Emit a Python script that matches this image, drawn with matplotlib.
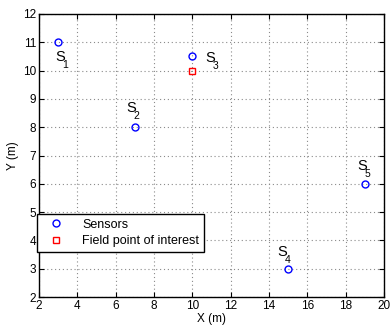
import matplotlib
matplotlib.use("Agg")
import matplotlib.pyplot as plt

plt.rcParams['font.family'] = ['Liberation Sans', 'DejaVu Sans']

sensor_x = [3, 7, 10, 15, 19]
sensor_y = [11, 8, 10.5, 3, 6]
sensor_names = ['1', '2', '3', '4', '5']
label_x = [2.83, 6.54, 10.66, 14.42, 18.59]
label_y = [10.48, 8.68, 10.45, 3.59, 6.63]
field_x = [10]
field_y = [10]

fig = plt.figure(figsize=(3.91, 3.27), dpi=100)
ax = fig.add_axes([39/391, 1 - 297/327, 345/391, 283/327])

ax.plot(sensor_x, sensor_y, 'o', ls='none', mfc='none', mec='blue', ms=5, mew=1, label='Sensors')
ax.plot(field_x, field_y, 's', ls='none', mfc='none', mec='red', ms=5, mew=1, label='Field point of interest')

for lx, ly, n in zip(label_x, label_y, sensor_names):
    ax.text(lx, ly, 'S', fontsize=10.5, ha='left', va='center')
    ax.annotate(n, (lx, ly), xytext=(5.3, -5.5), textcoords='offset points',
                fontsize=7.5, ha='left', va='center')

ax.set_xlim(2, 20)
ax.set_ylim(2, 12)
ax.set_xticks(range(2, 21, 2))
ax.set_yticks(range(2, 13, 1))
ax.grid(True, color='#8a8a8a', lw=0.8, dashes=(1, 2.5))
ax.tick_params(direction='in', top=True, right=True, labelsize=8.5, length=3.5, width=0.8, pad=2)
for s in ax.spines.values():
    s.set_linewidth(1.0)
ax.set_xlabel('X (m)', fontsize=8.5, labelpad=1)
ax.set_ylabel('Y (m)', fontsize=8.5, labelpad=3)

leg = ax.legend(loc='lower left', bbox_to_anchor=(-0.006, 0.159), borderaxespad=0,
                fontsize=9, frameon=True, fancybox=False, edgecolor='black',
                framealpha=1, handletextpad=1.0, handlelength=2.2, borderpad=0.4,
                labelspacing=0.35)
leg.get_frame().set_linewidth(1.0)

fig.savefig('out.png', dpi=100)
